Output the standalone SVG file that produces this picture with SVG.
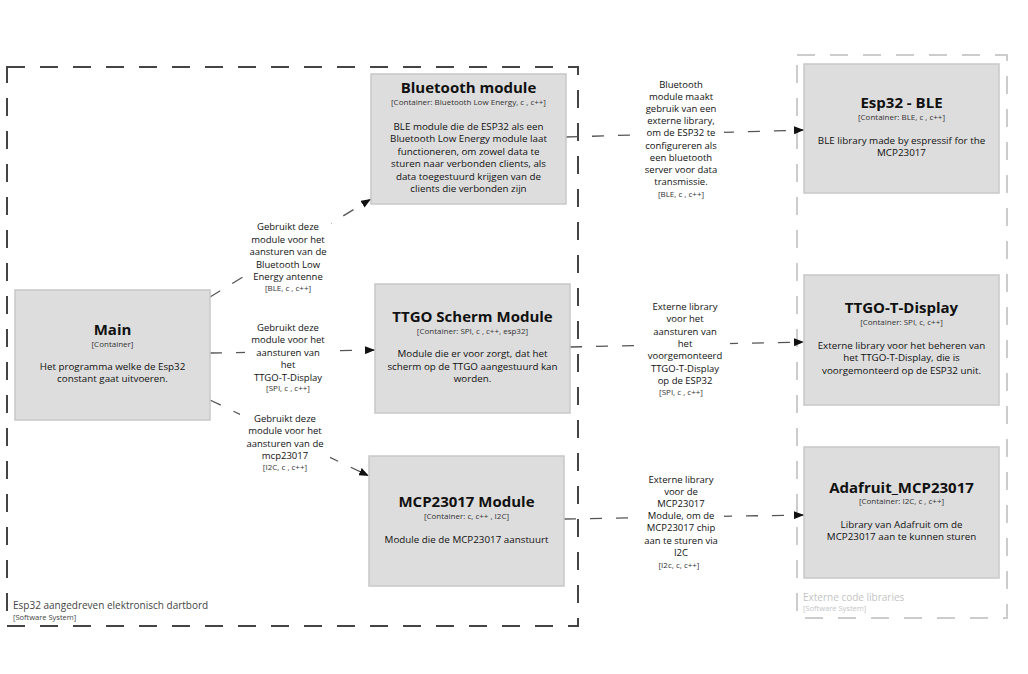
<svg xmlns="http://www.w3.org/2000/svg" width="1028" height="674" viewBox="0 0 1028 674">
<style>
text{font-family:"Open Sans","Liberation Sans",sans-serif;text-anchor:middle;fill:#111}
.box{fill:#dddddd;stroke:#c8c8c8;stroke-width:1.5}
.t{font-size:15px;font-weight:bold}
.c{font-size:8px;fill:#333}
.d{font-size:9.8px}
.l{font-size:9.5px}
.tech{font-size:8px;fill:#333}
.conn{fill:none;stroke:#555;stroke-width:1.3;stroke-dasharray:12,14}
.bg{fill:#fff}
</style>
<defs>
<marker id="arr" markerWidth="10" markerHeight="8" refX="10" refY="4" orient="auto" markerUnits="userSpaceOnUse">
<path d="M0,0 L10,4 L0,8 z" fill="#111"/>
</marker>
</defs>
<rect width="1028" height="674" fill="#fff"/>
<g id="boundary-esp32">
<rect x="7" y="67" width="571" height="559" fill="none" stroke="#444" stroke-width="2" stroke-dasharray="18,15"/>
<text x="13" y="609" style="text-anchor:start;font-size:10px;fill:#444">Esp32 aangedreven elektronisch dartbord</text>
<text x="13" y="620" style="text-anchor:start;font-size:7.5px;fill:#444">[Software System]</text>
</g>
<g id="boundary-external">
<rect x="797" y="55" width="210" height="563" fill="none" stroke="#cccccc" stroke-width="2" stroke-dasharray="18,15"/>
<text x="803" y="601" style="text-anchor:start;font-size:10px;fill:#c4c4c4">Externe code libraries</text>
<text x="803" y="611" style="text-anchor:start;font-size:7.5px;fill:#c4c4c4">[Software System]</text>
</g>
<g id="connectors">
<line class="conn" x1="210" y1="297" x2="371" y2="199" marker-end="url(#arr)"/>
<line class="conn" x1="210" y1="353" x2="375" y2="350" marker-end="url(#arr)"/>
<line class="conn" x1="210" y1="400" x2="369" y2="476" marker-end="url(#arr)"/>
<line class="conn" x1="566" y1="137" x2="804" y2="130" marker-end="url(#arr)"/>
<line class="conn" x1="570" y1="347" x2="804" y2="342" marker-end="url(#arr)"/>
<line class="conn" x1="564" y1="519" x2="804" y2="515" marker-end="url(#arr)"/>
<g id="label-main-ble">
<rect class="bg" x="245" y="218" width="86" height="75"/>
<text class="l" x="288" y="230">Gebruikt deze</text>
<text class="l" x="288" y="242.5">module voor het</text>
<text class="l" x="288" y="255">aansturen van de</text>
<text class="l" x="288" y="267.5">Bluetooth Low</text>
<text class="l" x="288" y="280">Energy antenne</text>
<text class="tech" x="288" y="290.5">[BLE, c , c++]</text>
</g>
<g id="label-main-ttgo">
<rect class="bg" x="245" y="318" width="86" height="75"/>
<text class="l" x="288" y="330.5">Gebruikt deze</text>
<text class="l" x="288" y="343">module voor het</text>
<text class="l" x="288" y="355.5">aansturen van</text>
<text class="l" x="288" y="368">het</text>
<text class="l" x="288" y="380.5">TTGO-T-Display</text>
<text class="tech" x="288" y="390.5">[SPI, c , c++]</text>
</g>
<g id="label-main-mcp">
<rect class="bg" x="240" y="409" width="90" height="63"/>
<text class="l" x="285" y="421.5">Gebruikt deze</text>
<text class="l" x="285" y="434">module voor het</text>
<text class="l" x="285" y="446.5">aansturen van de</text>
<text class="l" x="285" y="459">mcp23017</text>
<text class="tech" x="285" y="469.5">[I2C, c , c++]</text>
</g>
<g id="label-ble-esp">
<rect class="bg" x="638" y="76" width="86" height="124"/>
<text class="l" x="681" y="87.5">Bluetooth</text>
<text class="l" x="681" y="99.7">module maakt</text>
<text class="l" x="681" y="111.9">gebruik van een</text>
<text class="l" x="681" y="124.1">externe library,</text>
<text class="l" x="681" y="136.3">om de ESP32 te</text>
<text class="l" x="681" y="148.5">configureren als</text>
<text class="l" x="681" y="160.7">een bluetooth</text>
<text class="l" x="681" y="172.9">server voor data</text>
<text class="l" x="681" y="185.1">transmissie.</text>
<text class="tech" x="681" y="197">[BLE, c , c++]</text>
</g>
<g id="label-ttgo-display">
<rect class="bg" x="640" y="298" width="90" height="99"/>
<text class="l" x="685" y="310">Externe library</text>
<text class="l" x="685" y="322.3">voor het</text>
<text class="l" x="685" y="334.6">aansturen van</text>
<text class="l" x="685" y="346.9">het</text>
<text class="l" x="685" y="359.2">voorgemonteerd</text>
<text class="l" x="685" y="371.5">TTGO-T-Display</text>
<text class="l" x="685" y="383.8">op de ESP32</text>
<text class="tech" x="681" y="394.5">[SPI, c , c++]</text>
</g>
<g id="label-mcp-adafruit">
<rect class="bg" x="638" y="471" width="86" height="101"/>
<text class="l" x="681" y="482.5">Externe library</text>
<text class="l" x="681" y="494.7">voor de</text>
<text class="l" x="681" y="506.9">MCP23017</text>
<text class="l" x="681" y="519.1">Module, om de</text>
<text class="l" x="681" y="531.3">MCP23017 chip</text>
<text class="l" x="681" y="543.5">aan te sturen via</text>
<text class="l" x="681" y="555.7">I2C</text>
<text class="tech" x="679" y="567.5">[I2c, c, c++]</text>
</g>
</g>
<g id="node-bluetooth">
<rect class="box" x="371" y="74" width="195" height="130"/>
<text class="t" x="468.5" y="93">Bluetooth module</text>
<text class="c" x="468.5" y="104.5">[Container: Bluetooth Low Energy, c , c++]</text>
<text class="d" x="468.5" y="129.5">BLE module die de ESP32 als een</text>
<text class="d" x="468.5" y="142">Bluetooth Low Energy module laat</text>
<text class="d" x="468.5" y="154.5">functioneren, om zowel data te</text>
<text class="d" x="468.5" y="167">sturen naar verbonden clients, als</text>
<text class="d" x="468.5" y="179.5">data toegestuurd krijgen van de</text>
<text class="d" x="468.5" y="192">clients die verbonden zijn</text>
</g>
<g id="node-main">
<rect class="box" x="15" y="290" width="195" height="130"/>
<text class="t" x="112.5" y="335">Main</text>
<text class="c" x="112.5" y="347">[Container]</text>
<text class="d" x="112.5" y="369.5">Het programma welke de Esp32</text>
<text class="d" x="112.5" y="382">constant gaat uitvoeren.</text>
</g>
<g id="node-ttgo-scherm">
<rect class="box" x="375" y="284" width="195" height="129"/>
<text class="t" x="472.5" y="322">TTGO Scherm Module</text>
<text class="c" x="472.5" y="334">[Container: SPI, c , c++, esp32]</text>
<text class="d" x="472.5" y="357">Module die er voor zorgt, dat het</text>
<text class="d" x="472.5" y="369.5">scherm op de TTGO aangestuurd kan</text>
<text class="d" x="472.5" y="382">worden.</text>
</g>
<g id="node-mcp">
<rect class="box" x="369" y="456" width="195" height="130"/>
<text class="t" x="466.5" y="507">MCP23017 Module</text>
<text class="c" x="466.5" y="519">[Container: c, c++ , I2C]</text>
<text class="d" x="466.5" y="542.5">Module die de MCP23017 aanstuurt</text>
</g>
<g id="node-esp32-ble">
<rect class="box" x="804" y="64" width="195" height="129"/>
<text class="t" x="901.5" y="108">Esp32 - BLE</text>
<text class="c" x="901.5" y="120">[Container: BLE, c , c++]</text>
<text class="d" x="901.5" y="143.5">BLE library made by espressif for the</text>
<text class="d" x="901.5" y="156">MCP23017</text>
</g>
<g id="node-ttgo-display">
<rect class="box" x="804" y="275" width="195" height="130"/>
<text class="t" x="901.5" y="313">TTGO-T-Display</text>
<text class="c" x="901.5" y="325">[Container: SPI, c, c++]</text>
<text class="d" x="901.5" y="348.5">Externe library voor het beheren van</text>
<text class="d" x="901.5" y="361">het TTGO-T-Display, die is</text>
<text class="d" x="901.5" y="373.5">voorgemonteerd op de ESP32 unit.</text>
</g>
<g id="node-adafruit">
<rect class="box" x="804" y="447" width="195" height="131"/>
<text class="t" x="901.5" y="493">Adafruit_MCP23017</text>
<text class="c" x="901.5" y="504">[Container: I2C, c , c++]</text>
<text class="d" x="901.5" y="527.5">Library van Adafruit om de</text>
<text class="d" x="901.5" y="540">MCP23017 aan te kunnen sturen</text>
</g>
</svg>
